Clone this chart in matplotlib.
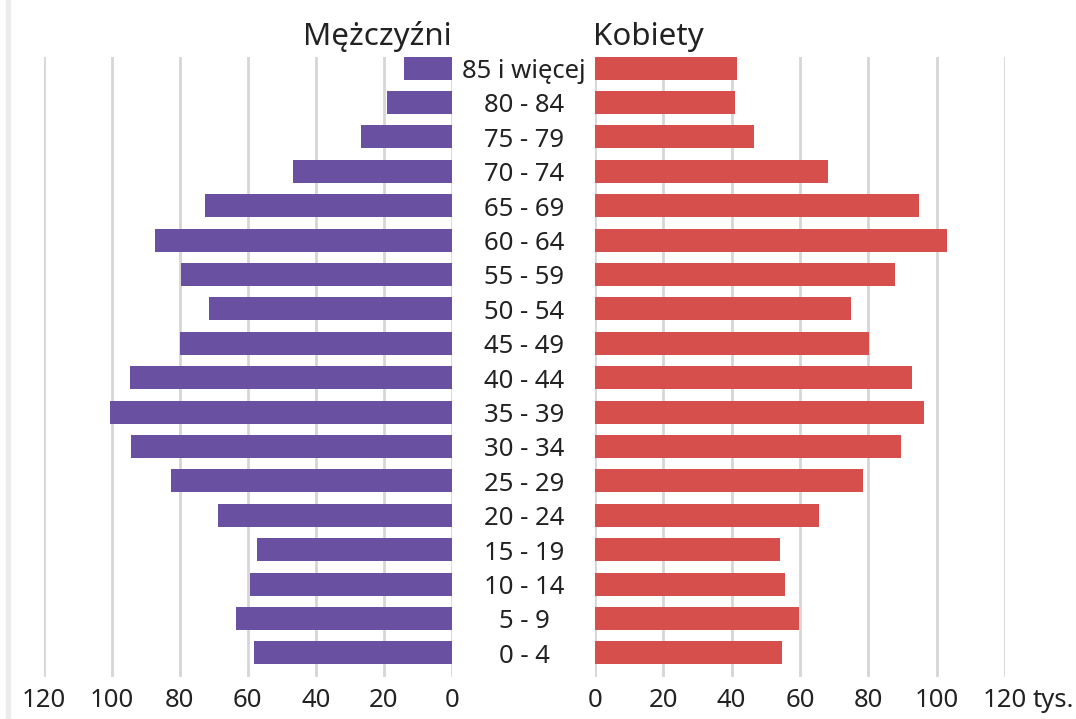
import matplotlib.pyplot as plt
from matplotlib.patches import Rectangle

plt.rcParams['font.family'] = ['Noto Sans', 'DejaVu Sans']

# grupy wieku, od najmlodszej
ages = ['0 - 4', '5 - 9', '10 - 14', '15 - 19', '20 - 24', '25 - 29', '30 - 34',
        '35 - 39', '40 - 44', '45 - 49', '50 - 54', '55 - 59', '60 - 64',
        '65 - 69', '70 - 74', '75 - 79', '80 - 84', '85 i więcej']
men = [58.2, 63.5, 59.4, 57.4, 68.8, 82.6, 94.4, 100.6, 94.7, 80.0,
       71.5, 79.7, 87.4, 72.6, 46.8, 26.8, 19.1, 14.1]
women = [54.7, 59.6, 55.6, 54.1, 65.5, 78.4, 89.5, 96.2, 92.7, 80.1,
         74.9, 87.7, 102.9, 94.7, 68.1, 46.5, 40.9, 41.5]
ticks = [0, 20, 40, 60, 80, 100, 120]

purple = '#6a50a0'
red = '#d64f4d'
grid = '#d6d6d6'
txt = '#222222'

W, H = 1076, 719
fig = plt.figure(figsize=(W / 100, H / 100), dpi=100)

# pasek po lewej
fig.patches.append(Rectangle((6 / W, 0), 4 / W, 1, transform=fig.transFigure,
                             color='#ececec', zorder=0))

y0, y1 = 57, 677
bottom = 1 - y1 / H
height = (y1 - y0) / H
axL = fig.add_axes([43.7 / W, bottom, (452 - 43.7) / W, height])
axR = fig.add_axes([595 / W, bottom, (1005 - 595) / W, height])

pos = list(range(len(ages)))
axL.barh(pos, men, height=0.67, color=purple, zorder=2)
axR.barh(pos, women, height=0.67, color=red, zorder=2)

for ax in (axL, axR):
    ax.set_xlim(0, 120)
    ax.set_ylim(-0.70, len(ages) - 1 + 0.32)
    ax.set_xticks(ticks)
    ax.set_yticks([])
    ax.grid(axis='x', color=grid, linewidth=2, zorder=0)
    for s in ax.spines.values():
        s.set_visible(False)
    ax.tick_params(axis='x', length=0, labelsize=18.5, colors=txt, pad=8)
axL.invert_xaxis()

axR.annotate('tys.', xy=(120, 0), xycoords=('data', 'axes fraction'),
             xytext=(20, -8), textcoords='offset points', ha='left', va='top',
             fontsize=18.5, color=txt, annotation_clip=False)

# etykiety wieku posrodku
for i, a in enumerate(ages):
    axR.annotate(a, xy=(0, i), xycoords='data', xytext=(-51, -2.5),
                 textcoords='offset points', ha='center', va='center',
                 fontsize=18.5, color=txt, annotation_clip=False)

fig.text(452 / W, 1 - 45 / H, 'Mężczyźni', ha='right', va='baseline',
         fontsize=22.5, color=txt)
fig.text(593 / W, 1 - 45 / H, 'Kobiety', ha='left', va='baseline',
         fontsize=22.5, color=txt)

fig.savefig('out.png', dpi=100, facecolor='white')
